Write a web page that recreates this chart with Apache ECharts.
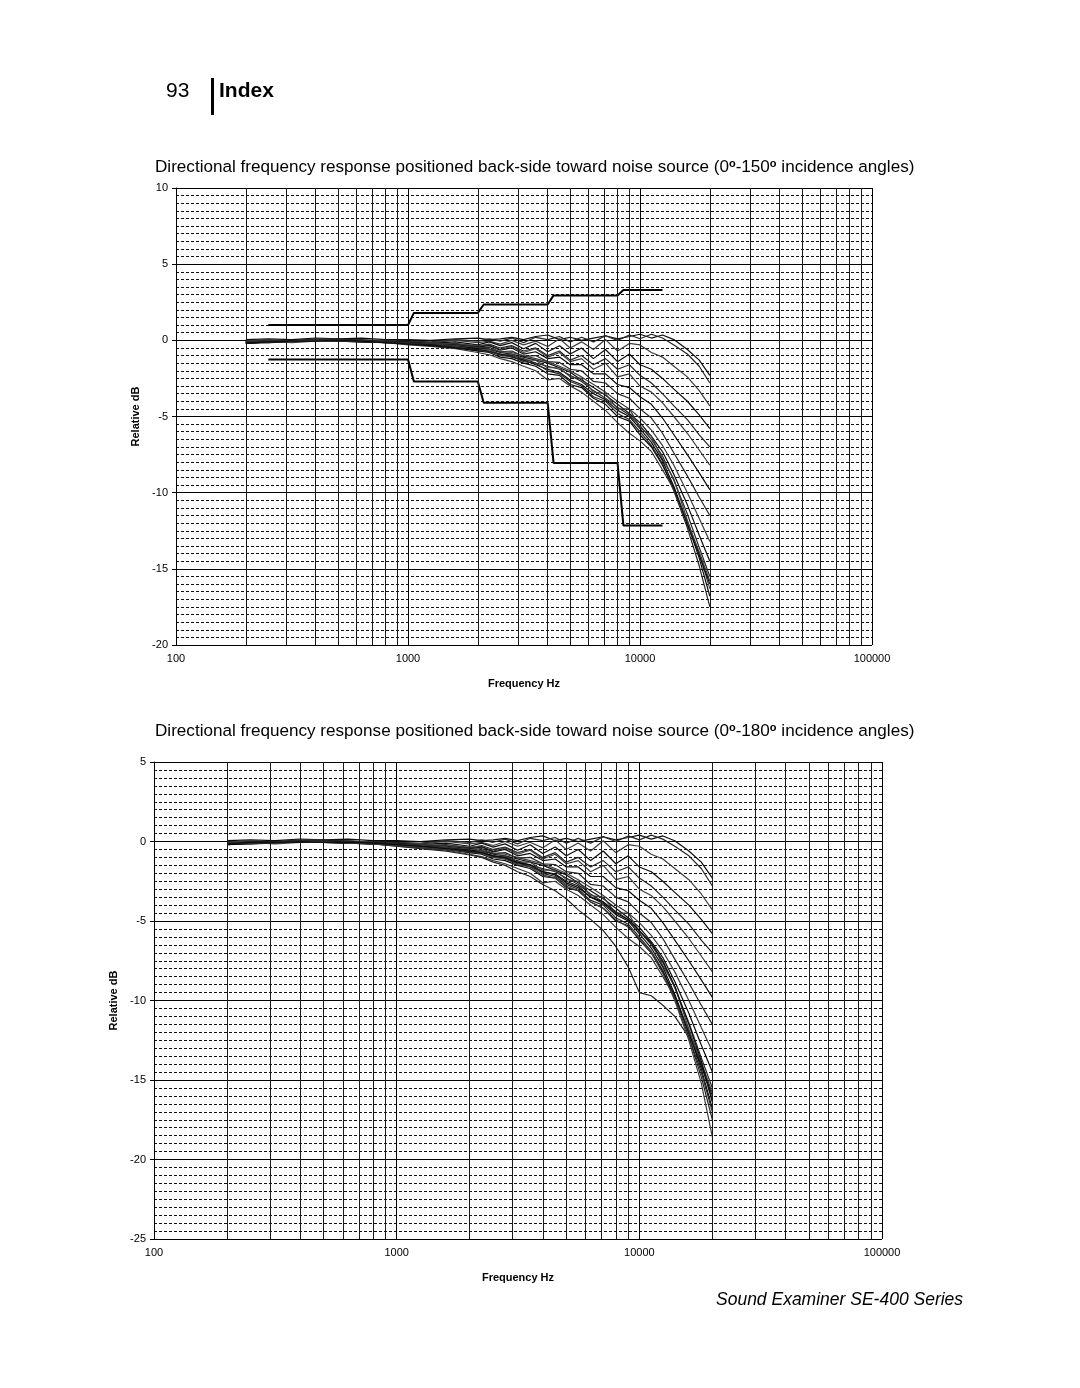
<!DOCTYPE html>
<html>
<head>
<meta charset="utf-8">
<script src="https://cdn.jsdelivr.net/npm/echarts@6/dist/echarts.min.js"></script>
<style>
  html, body { margin: 0; padding: 0; background: #fff; }
  #page { position: relative; width: 1080px; height: 1388px; font-family: "Liberation Sans", Arial, sans-serif; color: #000; }
  #chart { position: absolute; left: 0; top: 0; width: 1080px; height: 1388px; }
  .txt { position: absolute; white-space: nowrap; }
  .pagenum { left: 166px; top: 78px; font-size: 21px; }
  .bar { position: absolute; left: 211px; top: 78px; width: 3px; height: 37px; background: #000; }
  .section { left: 219px; top: 78px; font-size: 21px; font-weight: bold; }
  .title { left: 155px; font-size: 17.1px; }
  .title sup { font-size: 11px; font-weight: bold; vertical-align: 5px; line-height: 0; }
  .footer { left: 716px; top: 1289px; font-size: 17.5px; font-style: italic; }
</style>
</head>
<body>
<div id="page">
  <div id="chart"></div>
  <div class="txt pagenum">93</div>
  <div class="bar"></div>
  <div class="txt section">Index</div>
  <div class="txt title" style="top:157px">Directional frequency response positioned back-side toward noise source (0<sup>o</sup>-150<sup>o</sup> incidence angles)</div>
  <div class="txt title" style="top:721px">Directional frequency response positioned back-side toward noise source (0<sup>o</sup>-180<sup>o</sup> incidence angles)</div>
  <div class="txt footer">Sound Examiner SE-400 Series</div>
</div>
<script>
// measurement frequencies (Hz)
const FREQ = [200, 250, 315, 400, 500, 630, 800, 1000, 1250, 1600, 2000, 2240, 2500, 2800, 3150, 3550,
  4000, 4500, 5000, 5600, 6300, 7100, 8000, 9000, 10000, 11200, 12500, 14000, 16000, 18000, 20000];

// response curves, relative dB at FREQ
const CURVE_0 = [0.05, 0.1, 0.05, 0.15, 0.1, 0.15, 0.05, 0.05, 0, 0.1, 0.15, 0.05, 0.1, 0.2, 0.05, 0.25,
  0.35, 0.05, 0.2, 0, 0.15, 0.3, 0.1, 0.25, 0.4, 0.15, 0.35, 0.05, -0.6, -1.3, -2.3];
const CURVE_1 = [-0.05, 0.05, -0.05, 0.05, 0.1, 0, 0, -0.05, -0.1, 0.05, -0.05, 0.1, -0.05, 0.15, -0.15, 0.2,
  0.05, 0.25, -0.1, 0.2, -0.1, 0.3, 0, 0.35, 0.1, 0.4, 0.15, -0.3, -0.9, -1.7, -2.8];
const CURVE_2 = [-0.1, 0, -0.05, 0.1, 0.05, 0.05, -0.05, -0.1, -0.15, 0, -0.15, -0.05, -0.25, 0, -0.3, -0.05,
  -0.4, 0.1, -0.5, -0.1, -0.6, 0.05, -0.7, -0.2, -0.3, -0.8, -1.1, -1.7, -2.4, -3.3, -4.3];
const CURVE_3 = [-0.15, -0.05, -0.1, 0, 0.05, -0.05, -0.1, -0.15, -0.2, -0.1, -0.3, -0.1, -0.35, -0.15, -0.55, -0.2,
  -0.75, -0.35, -0.9, -0.5, -1.2, -0.6, -1.4, -0.9, -1.6, -1.9, -2.5, -3.2, -4.0, -4.9, -5.8];
const CURVE_4 = [-0.2, -0.1, -0.05, 0, 0, -0.1, -0.15, -0.15, -0.25, -0.2, -0.4, -0.25, -0.5, -0.35, -0.7, -0.5,
  -1.0, -0.7, -1.3, -1.0, -1.6, -1.2, -1.9, -1.6, -2.3, -2.8, -3.5, -4.3, -5.2, -6.2, -7.0];
const CURVE_5 = [-0.05, 0.05, -0.05, 0.1, 0, 0.05, -0.1, -0.15, -0.2, -0.25, -0.35, -0.3, -0.6, -0.4, -0.8, -0.55,
  -1.1, -0.8, -1.4, -1.2, -1.9, -1.5, -2.4, -2.2, -3.0, -3.4, -4.1, -5.0, -6.1, -7.2, -8.2];
const CURVE_6 = [-0.1, -0.05, 0, 0.05, 0.05, 0, -0.1, -0.1, -0.25, -0.3, -0.45, -0.35, -0.65, -0.5, -0.9, -0.75,
  -1.2, -1.1, -1.6, -1.6, -2.2, -2.2, -2.9, -3.1, -3.7, -4.2, -5.1, -6.2, -7.5, -8.7, -9.8];
const CURVE_7 = [-0.15, 0, -0.05, 0, 0.05, -0.05, -0.1, -0.15, -0.25, -0.35, -0.5, -0.45, -0.75, -0.7, -1.05, -1.0,
  -1.4, -1.45, -1.9, -2.0, -2.7, -2.8, -3.5, -3.8, -4.5, -5.1, -6.1, -7.4, -8.9, -10.3, -11.5];
const CURVE_8 = [-0.1, -0.05, -0.05, 0.05, 0, -0.05, -0.1, -0.2, -0.25, -0.35, -0.5, -0.55, -0.75, -0.8, -1.0, -1.2,
  -1.4, -1.7, -2.0, -2.4, -2.9, -3.4, -4.0, -4.5, -5.1, -5.9, -6.9, -8.2, -10.0, -11.7, -13.2];
const CURVE_9 = [-0.2, -0.15, -0.1, 0, -0.05, -0.1, -0.15, -0.2, -0.3, -0.4, -0.55, -0.6, -0.8, -0.9, -1.1, -1.3,
  -1.5, -1.8, -2.1, -2.6, -3.1, -3.6, -4.2, -4.8, -5.4, -6.3, -7.3, -8.8, -10.8, -12.8, -14.5];
const CURVE_10 = [-0.1, -0.15, -0.05, 0, 0, -0.05, -0.1, -0.25, -0.3, -0.45, -0.6, -0.7, -0.9, -1.0, -1.2, -1.5,
  -1.7, -1.9, -2.3, -2.7, -3.3, -3.8, -4.4, -4.9, -5.6, -6.5, -7.6, -9.2, -11.4, -13.6, -15.5];
const CURVE_11 = [-0.15, -0.05, -0.15, -0.05, 0, -0.05, -0.15, -0.2, -0.35, -0.4, -0.65, -0.6, -0.95, -0.9, -1.3, -1.3,
  -1.8, -1.8, -2.4, -2.5, -3.4, -3.5, -4.5, -4.5, -5.7, -6.3, -7.8, -9.1, -11.8, -14.0, -16.3];
const CURVE_12 = [-0.2, -0.1, -0.05, 0, -0.05, -0.1, -0.1, -0.25, -0.3, -0.5, -0.6, -0.75, -0.9, -1.1, -1.3, -1.6,
  -1.9, -2.1, -2.6, -2.9, -3.5, -3.9, -4.6, -5.0, -5.8, -6.7, -7.9, -9.6, -12.0, -14.3, -16.8];
const CURVE_13 = [-0.1, -0.05, -0.05, 0.05, 0, -0.05, -0.1, -0.2, -0.35, -0.45, -0.7, -0.7, -1.0, -1.05, -1.4, -1.5,
  -2.0, -2.2, -2.7, -3.0, -3.7, -4.0, -4.8, -5.2, -6.0, -6.9, -8.1, -9.9, -12.3, -14.8, -17.5];
const CURVE_14 = [-0.1, -0.1, -0.05, 0, -0.05, -0.05, -0.15, -0.3, -0.4, -0.55, -0.8, -0.95, -1.2, -1.4, -1.7, -2.0,
  -2.6, -2.5, -3.0, -3.4, -4.0, -4.6, -5.4, -6.1, -6.6, -7.3, -8.5, -9.8, -11.9, -13.9, -15.8];
const CURVE_15 = [-0.15, -0.1, -0.05, -0.05, 0, -0.05, -0.15, -0.25, -0.35, -0.5, -0.7, -0.8, -1.1, -1.2, -1.5, -1.7,
  -2.2, -2.3, -2.9, -3.1, -3.8, -4.2, -5.0, -5.3, -6.2, -7.0, -8.2, -9.7, -12.1, -14.1, -16.0];
// extra angles only in the 0-180 plot
const CURVE_16 = [-0.1, -0.05, 0, 0, -0.05, -0.1, -0.15, -0.3, -0.45, -0.6, -0.85, -1.0, -1.3, -1.5, -1.9, -2.2,
  -2.7, -3.1, -3.6, -4.3, -4.9, -5.6, -6.6, -7.9, -9.5, -9.7, -10.3, -11.0, -12.3, -14.5, -17.0];
const CURVE_17 = [-0.1, -0.1, -0.05, 0, 0, -0.1, -0.15, -0.25, -0.35, -0.5, -0.65, -0.75, -1.0, -1.1, -1.45, -1.6,
  -2.1, -2.3, -2.8, -3.1, -3.8, -4.2, -4.9, -5.4, -6.1, -7.0, -8.3, -10.0, -12.5, -15.2, -18.6];
const CURVE_18 = [-0.15, -0.05, -0.05, 0, -0.05, -0.05, -0.1, -0.2, -0.3, -0.45, -0.6, -0.7, -0.9, -1.0, -1.35, -1.45,
  -1.9, -2.05, -2.5, -2.8, -3.5, -3.8, -4.5, -4.9, -5.6, -6.4, -7.5, -9.1, -11.5, -13.8, -16.4];

const TOP_CURVES = [CURVE_0, CURVE_1, CURVE_2, CURVE_3, CURVE_4, CURVE_5, CURVE_6, CURVE_7,
  CURVE_8, CURVE_9, CURVE_10, CURVE_11, CURVE_12, CURVE_13, CURVE_14, CURVE_15];
const BOTTOM_CURVES = TOP_CURVES.concat([CURVE_16, CURVE_17, CURVE_18]);

// tolerance limits (top plot)
const TOL_FREQ = [250, 1000, 1060, 2000, 2120, 4000, 4240, 8000, 8480, 12500];
const TOL_UPPER = [1.0, 1.0, 1.8, 1.8, 2.35, 2.35, 2.95, 2.95, 3.3, 3.3];
const TOL_LOWER = [-1.25, -1.25, -2.7, -2.7, -4.1, -4.1, -8.05, -8.05, -12.15, -12.15];

// axis ranges
const X_MIN = 100, X_MAX = 100000;
const TOP_Y = [-20, 10];
const BOTTOM_Y = [-25, 5];

const minorFreqs = [];
[100, 1000, 10000].forEach((decade) => {
  for (let m = 2; m <= 9; m++) minorFreqs.push(decade * m);
});

const FONT = '"Liberation Sans", Arial, sans-serif';
const LINE_COLORS = ['#0d0d0d', '#262626', '#3d3d3d'];

function xAxisFor(gridIndex) {
  return {
    type: 'log', logBase: 10, gridIndex, min: X_MIN, max: X_MAX,
    name: 'Frequency Hz', nameLocation: 'middle', nameGap: 33,
    nameTextStyle: { fontFamily: FONT, fontWeight: 'bold', fontSize: 11, color: '#000' },
    axisLine: { lineStyle: { color: '#000', width: 1 } },
    axisTick: { show: true, length: 4, lineStyle: { color: '#000' } },
    axisLabel: { fontFamily: FONT, fontSize: 11, color: '#000', margin: 8,
      formatter: (v) => String(Math.round(v)) },
    splitLine: { show: true, lineStyle: { color: '#000', width: 1 } },
  };
}

function yAxisFor(gridIndex, range) {
  return {
    type: 'value', gridIndex, min: range[0], max: range[1], interval: 5,
    name: 'Relative dB', nameLocation: 'middle', nameGap: 34, nameRotate: 90,
    nameTextStyle: { fontFamily: FONT, fontWeight: 'bold', fontSize: 11, color: '#000' },
    axisLine: { show: true, lineStyle: { color: '#000', width: 1 } },
    axisTick: { show: true, length: 4, lineStyle: { color: '#000' } },
    axisLabel: { fontFamily: FONT, fontSize: 11, color: '#000', margin: 8 },
    splitLine: { show: true, lineStyle: { color: '#000', width: 1 } },
    minorTick: { show: false, splitNumber: 10 },
    minorSplitLine: { show: true, lineStyle: { color: '#111', width: 1, type: [3, 2] } },
  };
}

function gridSeries(i) {
  return {
    type: 'line', xAxisIndex: i, yAxisIndex: i, data: [], silent: true,
    markLine: {
      silent: true, symbol: 'none', animation: false,
      label: { show: false },
      lineStyle: { color: '#1a1a1a', width: 1, type: 'solid' },
      data: minorFreqs.map((f) => ({ xAxis: f })),
    },
  };
}

function curveSeries(i, curves) {
  return curves.map((values, k) => ({
    type: 'line', xAxisIndex: i, yAxisIndex: i, showSymbol: false, silent: true,
    lineStyle: { color: LINE_COLORS[k % 3], width: 1.2 },
    data: FREQ.map((f, j) => [f, values[j]]),
  }));
}

function tolSeries(values) {
  return {
    type: 'line', xAxisIndex: 0, yAxisIndex: 0, showSymbol: false, silent: true,
    lineStyle: { color: '#000', width: 2 },
    data: TOL_FREQ.map((f, j) => [f, values[j]]),
  };
}

const chart = echarts.init(document.getElementById('chart'), null, { renderer: 'canvas' });
chart.setOption({
  animation: false,
  backgroundColor: '#fff',
  grid: [
    { left: 176, top: 188, width: 696, height: 457 },
    { left: 154, top: 762, width: 728, height: 477 },
  ],
  xAxis: [xAxisFor(0), xAxisFor(1)],
  yAxis: [yAxisFor(0, TOP_Y), yAxisFor(1, BOTTOM_Y)],
  series: [
    gridSeries(0),
    gridSeries(1),
    ...curveSeries(0, TOP_CURVES),
    tolSeries(TOL_UPPER),
    tolSeries(TOL_LOWER),
    ...curveSeries(1, BOTTOM_CURVES),
  ],
});
</script>
</body>
</html>
